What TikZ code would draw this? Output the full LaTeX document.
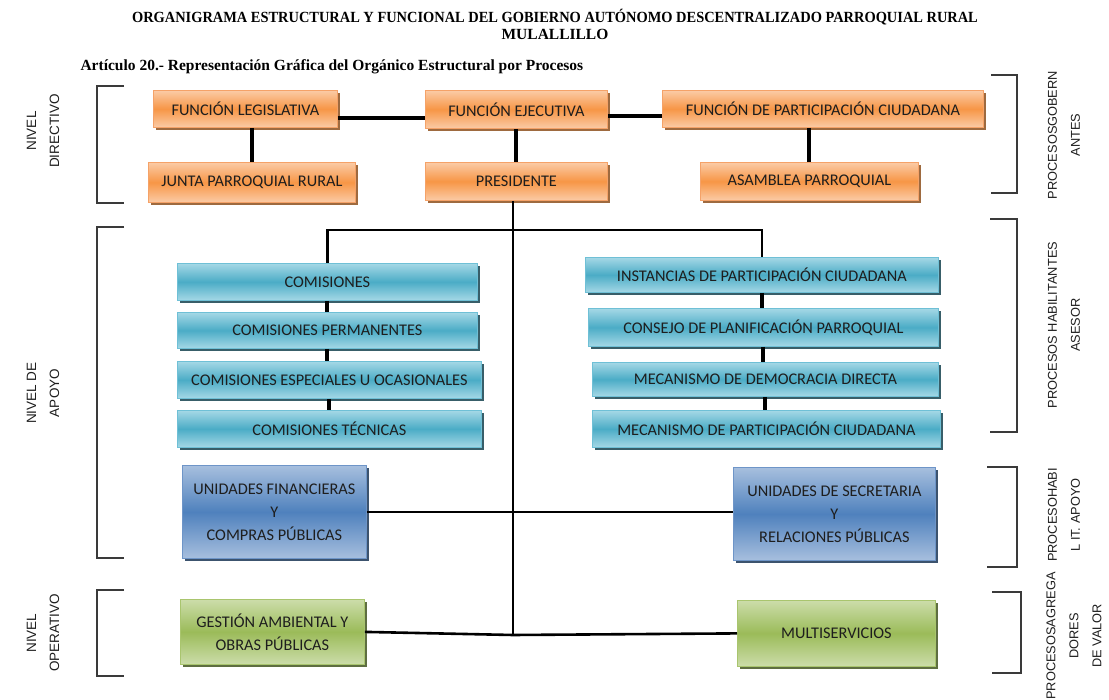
\documentclass[tikz,border=0pt]{standalone}
\usepackage{fontspec}
\setmainfont{Liberation Serif}
\newfontfamily\boxfont{Carlito}
\newfontfamily\lvlfont{Liberation Sans}
\usepackage{xcolor}
\definecolor{OrangeMid}{HTML}{F79646}
\definecolor{OrangeLight}{HTML}{FBCBA6}
\definecolor{OrangeEdge}{HTML}{F5A268}
\definecolor{AquaMid}{HTML}{4BACC6}
\definecolor{AquaLight}{HTML}{A5D8E6}
\definecolor{AquaEdge}{HTML}{6FC0D6}
\definecolor{BlueMid}{HTML}{4F81BD}
\definecolor{BlueLight}{HTML}{A7BFDE}
\definecolor{BlueEdge}{HTML}{6E95C8}
\definecolor{GreenMid}{HTML}{9BBB59}
\definecolor{GreenLight}{HTML}{CCDDAA}
\definecolor{GreenEdge}{HTML}{A9C56E}
\definecolor{InkGray}{HTML}{1E1E1E}
\definecolor{RuleGray}{HTML}{3A3A3A}
\usepackage{tikz}
\usetikzlibrary{positioning,shadows}

\begin{document}
\begin{tikzpicture}[x=1pt,y=-1pt]
\tikzset{
  unit/.style={anchor=north west,draw,line width=.8pt,inner sep=2pt,align=center,
    text=InkGray,font=\boxfont\fontsize{16.3}{23}\selectfont},
  orangebox/.style={unit,draw=OrangeEdge,top color=OrangeLight,bottom color=OrangeLight,
    middle color=OrangeMid,drop shadow={shadow xshift=3pt,shadow yshift=-3pt,fill=OrangeMid!60!black,opacity=.9}},
  aquabox/.style={unit,draw=AquaEdge,top color=AquaLight,bottom color=AquaLight,
    middle color=AquaMid,drop shadow={shadow xshift=3pt,shadow yshift=-3pt,fill=AquaMid!45!black,opacity=.9}},
  bluebox/.style={unit,draw=BlueEdge,top color=BlueLight,bottom color=BlueLight,
    middle color=BlueMid,drop shadow={shadow xshift=3pt,shadow yshift=-3pt,fill=BlueMid!50!black,opacity=.9}},
  greenbox/.style={unit,draw=GreenEdge,top color=GreenLight,bottom color=GreenLight,
    middle color=GreenMid,drop shadow={shadow xshift=3pt,shadow yshift=-3pt,fill=GreenMid!50!black,opacity=.9}},
  link/.style={black,line width=4pt},
  trunk/.style={black,line width=2.6pt},
  brace/.style={RuleGray,line width=1.3pt},
  lvl/.style={rotate=90,align=center,text=InkGray,font=\lvlfont\fontsize{13.5}{23}\selectfont},
  proc/.style={lvl,font=\lvlfont\fontsize{12.8}{23}\selectfont}
}
\useasboundingbox (0,0) rectangle (1109,700);

% Title and article heading
\node[font=\bfseries\fontsize{15.5}{17}\selectfont,align=center] (title) at (555,24)
  {\scalebox{0.93}[1]{ORGANIGRAMA ESTRUCTURAL Y FUNCIONAL DEL GOBIERNO AUTÓNOMO DESCENTRALIZADO PARROQUIAL RURAL}\\MULALLILLO};
\node[font=\bfseries\fontsize{15.5}{17}\selectfont,anchor=west] (art) at (77,67)
  {Artículo 20.- Representación Gráfica del Orgánico Estructural por Procesos};

% Nivel directivo
\node[orangebox,minimum width=184,minimum height=37] (legis) at (153,90) {FUNCIÓN LEGISLATIVA};
\node[orangebox,minimum width=182,minimum height=38] (ejec) at (425,90) {FUNCIÓN EJECUTIVA};
\node[orangebox,minimum width=321,minimum height=37] (partic) at (662,90) {FUNCIÓN DE PARTICIPACIÓN CIUDADANA};
\node[orangebox,minimum width=207,minimum height=40] (junta) at (148,162) {JUNTA PARROQUIAL RURAL};
\node[orangebox,minimum width=182,minimum height=38] (pres) at (425,162) {PRESIDENTE};
\node[orangebox,minimum width=218,minimum height=38] (asamb) at (700,162) {ASAMBLEA PARROQUIAL};

% Nivel de apoyo: comisiones e instancias
\node[aquabox,minimum width=300,minimum height=37] (com1) at (177,263) {COMISIONES};
\node[aquabox,minimum width=300,minimum height=36] (com2) at (177,312) {COMISIONES PERMANENTES};
\node[aquabox,minimum width=304,minimum height=37] (com3) at (177,361) {COMISIONES ESPECIALES U OCASIONALES};
\node[aquabox,minimum width=304,minimum height=37] (com4) at (177,410) {COMISIONES TÉCNICAS};
\node[aquabox,minimum width=353,minimum height=35] (inst1) at (585,257) {INSTANCIAS DE PARTICIPACIÓN CIUDADANA};
\node[aquabox,minimum width=350,minimum height=38] (inst2) at (588,308) {CONSEJO DE PLANIFICACIÓN PARROQUIAL};
\node[aquabox,minimum width=346,minimum height=34] (inst3) at (592,362) {MECANISMO DE DEMOCRACIA DIRECTA};
\node[aquabox,minimum width=348,minimum height=37] (inst4) at (592,410) {MECANISMO DE PARTICIPACIÓN CIUDADANA};

\node[bluebox,minimum width=184,minimum height=93] (unifin) at (182,465) {UNIDADES FINANCIERAS\\Y\\COMPRAS PÚBLICAS};
\node[bluebox,minimum width=202,minimum height=93] (unisec) at (733,467) {UNIDADES DE SECRETARIA\\Y\\RELACIONES PÚBLICAS};

% Nivel operativo
\node[greenbox,minimum width=184,minimum height=65] (gestion) at (180,599) {GESTIÓN AMBIENTAL Y\\OBRAS PÚBLICAS};
\node[greenbox,minimum width=198,minimum height=66] (multi) at (737,600) {MULTISERVICIOS};

% Connectors
\coordinate (split) at (513,230);
\coordinate (hub) at (513,635);
\draw[link] ([yshift=-9pt]legis.east) -- ([yshift=-9pt]legis.east -| ejec.west);
\draw[link] ([yshift=-7pt]ejec.east) -- ([yshift=-7pt]ejec.east -| partic.west);
\draw[link] (legis.south -| junta.north) -- (junta.north);
\draw[link] (asamb.north |- partic.south) -- (asamb.north);
\draw[link] (pres.north |- ejec.south) -- (pres.north);
\draw[trunk] (split |- pres.south) -- (hub);
\draw[trunk] (com1.north) |- (split) -| (inst1.north);
\foreach \a/\b in {com1/com2,com2/com3,com3/com4,inst1/inst2,inst2/inst3,inst3/inst4}
  \draw[link] (\a.south) -- (\a.south |- \b.north);
\draw[trunk] (unifin.east) -- (unifin.east -| unisec.west);
\draw[trunk] (gestion.east) -- (hub) -- (multi.west);

% Level brackets, left
\draw[brace] (124,86) -- (97,86) -- (97,203) -- (124,203);
\draw[brace] (124,227) -- (97,227) -- (97,558) -- (124,558);
\draw[brace] (124,590) -- (97,590) -- (97,676) -- (124,676);
\node[lvl] (lvldir) at (43,131) {NIVEL\\DIRECTIVO};
\node[lvl] (lvlapo) at (43,393) {NIVEL DE\\APOYO};
\node[lvl] (lvlope) at (43,633) {NIVEL\\OPERATIVO};

% Process brackets, right
\draw[brace] (991,75) -- (1017,75) -- (1017,193) -- (991,193);
\draw[brace] (990,219) -- (1017,219) -- (1017,432) -- (990,432);
\draw[brace] (987,467) -- (1017,467) -- (1017,567) -- (987,567);
\draw[brace] (992,592) -- (1021,592) -- (1021,673) -- (992,673);
\node[proc] (prgob) at (1064,135) {PROCESOSGOBERN\\ANTES};
\node[proc] (prhab) at (1064,325) {PROCESOS HABILITANTES\\ASESOR};
\node[proc] (prapo) at (1064,515) {PROCESOHABI\\L IT. APOYO};
\node[proc] (pragr) at (1074,636) {PROCESOSAGREGA\\DORES\\DE VALOR};
\end{tikzpicture}
\end{document}
